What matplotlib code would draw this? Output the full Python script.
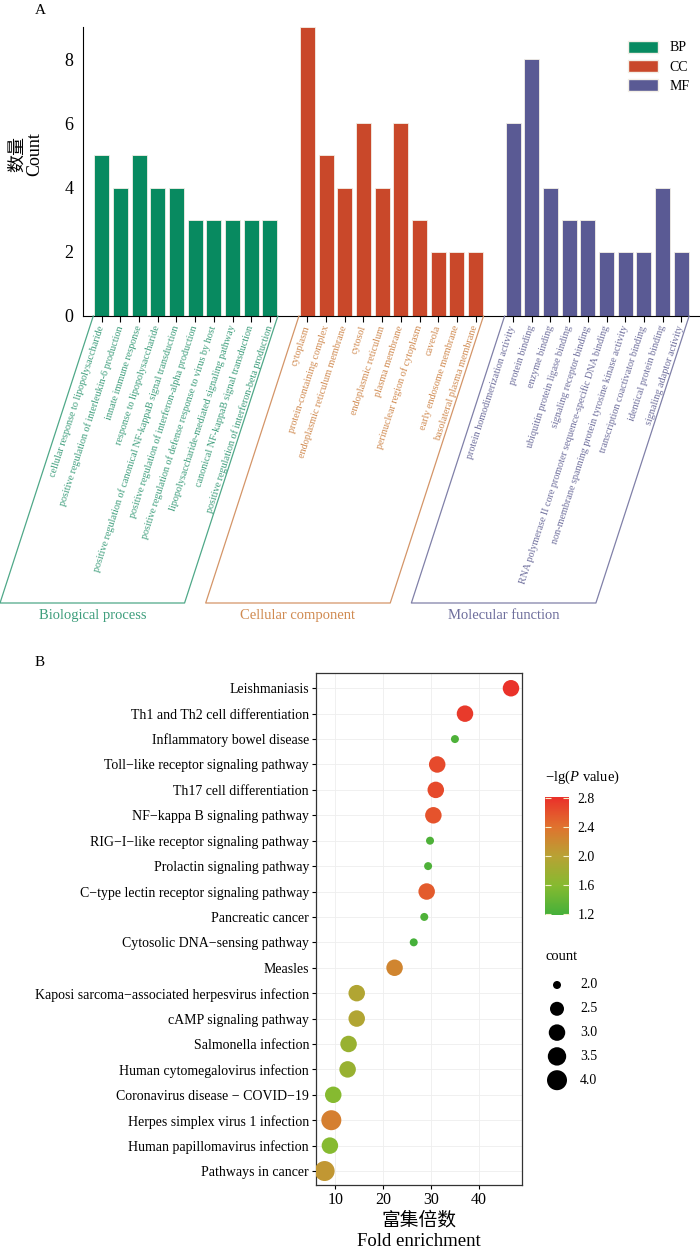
import numpy as np
import matplotlib
matplotlib.use('Agg')
import matplotlib.pyplot as plt
from matplotlib.colors import LinearSegmentedColormap, Normalize
from matplotlib.lines import Line2D
from matplotlib.patches import Patch
import matplotlib.cm as cm

plt.rcParams['font.family'] = ['Liberation Serif', 'Noto Sans CJK SC']
plt.rcParams['mathtext.fontset'] = 'custom'
plt.rcParams['mathtext.rm'] = 'Liberation Serif'
plt.rcParams['mathtext.it'] = 'Liberation Serif:italic'

# ---- panel A data (GO terms) ----
bp_terms = ['cellular response to lipopolysaccharide',
            'positive regulation of interleukin-6 production',
            'innate immune response',
            'response to lipopolysaccharide',
            'positive regulation of canonical NF-kappaB signal transduction',
            'positive regulation of interferon-alpha production',
            'positive regulation of defense response to virus by host',
            'lipopolysaccharide-mediated signaling pathway',
            'canonical NF-kappaB signal transduction',
            'positive regulation of interferon-beta production']
bp_counts = [5, 4, 5, 4, 4, 3, 3, 3, 3, 3]

cc_terms = ['cytoplasm',
            'protein-containing complex',
            'endoplasmic reticulum membrane',
            'cytosol',
            'endoplasmic reticulum',
            'plasma membrane',
            'perinuclear region of cytoplasm',
            'caveola',
            'early endosome membrane',
            'basolateral plasma membrane']
cc_counts = [9, 5, 4, 6, 4, 6, 3, 2, 2, 2]

mf_terms = ['protein homodimerization activity',
            'protein binding',
            'enzyme binding',
            'ubiquitin protein ligase binding',
            'signaling receptor binding',
            'RNA polymerase II core promoter sequence-specific DNA binding',
            'non-membrane spanning protein tyrosine kinase activity',
            'transcription coactivator binding',
            'identical protein binding',
            'signaling adaptor activity']
mf_counts = [6, 8, 4, 3, 3, 2, 2, 2, 4, 2]

groups = ['BP', 'CC', 'MF']
group_names = ['Biological process', 'Cellular component', 'Molecular function']

# ---- panel B data (KEGG) ----
kegg_terms = ['Leishmaniasis',
              'Th1 and Th2 cell differentiation',
              'Inflammatory bowel disease',
              'Toll\u2212like receptor signaling pathway',
              'Th17 cell differentiation',
              'NF\u2212kappa B signaling pathway',
              'RIG\u2212I\u2212like receptor signaling pathway',
              'Prolactin signaling pathway',
              'C\u2212type lectin receptor signaling pathway',
              'Pancreatic cancer',
              'Cytosolic DNA\u2212sensing pathway',
              'Measles',
              'Kaposi sarcoma\u2212associated herpesvirus infection',
              'cAMP signaling pathway',
              'Salmonella infection',
              'Human cytomegalovirus infection',
              'Coronavirus disease \u2212 COVID\u221219',
              'Herpes simplex virus 1 infection',
              'Human papillomavirus infection',
              'Pathways in cancer']
kegg_fold = [46.7, 37.1, 35.0, 31.3, 31.0, 30.5, 29.8, 29.4, 29.1, 28.6,
             26.4, 22.4, 14.5, 14.5, 12.8, 12.6, 9.6, 9.2, 8.9, 7.8]
kegg_count = [3, 3, 2, 3, 3, 3, 2, 2, 3, 2, 2, 3, 3, 3, 3, 3, 3, 4, 3, 4]
kegg_lgp = [2.80, 2.75, 1.25, 2.65, 2.65, 2.60, 1.25, 1.25, 2.55, 1.25,
            1.20, 2.25, 1.95, 1.95, 1.75, 1.75, 1.60, 2.30, 1.60, 2.10]

count_breaks = [2.0, 2.5, 3.0, 3.5, 4.0]
lgp_ticks = [1.2, 1.6, 2.0, 2.4, 2.8]

bar_colors = ['#088A60', '#C9482A', '#5A5A94']
label_colors = ['#3E9E7C', '#D08A50', '#6E6E9C']
box_colors = ['#4FA888', '#D49568', '#8080A8']

W, H = 700, 1260
fig = plt.figure(figsize=(W / 100, H / 100), dpi=100)

# ================= Panel A =================
axA = fig.add_axes([83 / W, 1 - 316 / H, 617 / W, 289 / H])
all_counts = [bp_counts, cc_counts, mf_counts]
all_terms = [bp_terms, cc_terms, mf_terms]
xpos_all, labels_all, lcol_all = [], [], []
group_pos = []
for gi, (cnts, terms) in enumerate(zip(all_counts, all_terms)):
    pos = np.arange(len(cnts)) + gi * (len(cnts) + 1)
    group_pos.append(pos)
    axA.bar(pos, cnts, width=0.8, color=bar_colors[gi],
            edgecolor='#f3efe6', linewidth=0.6, label=groups[gi])
    xpos_all.extend(pos)
    labels_all.extend(terms)
    lcol_all.extend([label_colors[gi]] * len(terms))

axA.set_xlim(-1, 32)
axA.set_ylim(0, 9.0)
axA.set_yticks([0, 2, 4, 6, 8])
axA.spines['top'].set_visible(False)
axA.spines['right'].set_visible(False)
axA.tick_params(axis='y', labelsize=13, length=0, pad=7)
axA.set_xticks(xpos_all)
axA.set_xticklabels(labels_all, rotation=72, ha='right', va='center',
                    rotation_mode='anchor', fontsize=7.3)
for t, c in zip(axA.get_xticklabels(), lcol_all):
    t.set_color(c)
axA.tick_params(axis='x', length=4, pad=3)
axA.set_ylabel('数量\nCount', fontsize=13, linespacing=1.0)
axA.yaxis.set_label_coords(-0.065, 0.56)

handles = [Patch(facecolor=bar_colors[i], edgecolor='#f3efe6') for i in range(3)]
axA.legend(handles, groups, loc='upper left', frameon=False, fontsize=10,
           bbox_to_anchor=(618 / W, 1 - 31 / H), bbox_transform=fig.transFigure,
           handlelength=2.2, handleheight=0.95, labelspacing=0.4,
           handletextpad=0.8, borderpad=0.2)

# slanted group boxes below the labels
depth = 287.0
shift = depth / np.tan(np.deg2rad(72))
inv = fig.transFigure.inverted()
for gi, pos in enumerate(group_pos):
    xl, y0 = axA.transData.transform((pos[0] - 0.45, 0))
    xr, _ = axA.transData.transform((pos[-1] + 0.42, 0))
    pts = np.array([[xl, y0], [xl - shift, y0 - depth],
                    [xr - shift, y0 - depth], [xr, y0]])
    pts_f = inv.transform(pts)
    fig.add_artist(Line2D(pts_f[:, 0], pts_f[:, 1], color=box_colors[gi],
                          linewidth=0.9, transform=fig.transFigure))
    cx = (pts[1, 0] + pts[2, 0]) / 2
    cf = inv.transform((cx, y0 - depth - 6))
    fig.text(cf[0], cf[1], group_names[gi], ha='center', va='top',
             fontsize=10.5, color=label_colors[gi])

fig.text(40 / W, 1 - 10 / H, 'A', fontsize=11, ha='center', va='center')
fig.text(40 / W, 1 - 662 / H, 'B', fontsize=11, ha='center', va='center')

# ================= Panel B =================
cmap = LinearSegmentedColormap.from_list(
    'gr', ['#45B03A', '#86BA30', '#B8A234', '#E0722E', '#EA2F2A'])
norm = Normalize(vmin=1.19, vmax=2.82)


def diam_px(c):
    return 8 + 12 * np.sqrt((np.asarray(c, float) - 2.0) / 2.0)


axB = fig.add_axes([316 / W, 1 - 1185 / H, 206 / W, 512 / H])
n = len(kegg_terms)
ypos = np.arange(n)[::-1] + 1
sizes = (diam_px(kegg_count) * 0.72) ** 2
axB.scatter(kegg_fold, ypos, s=sizes, c=kegg_lgp, cmap=cmap, norm=norm,
            edgecolors='none', zorder=3)
axB.set_xlim(6, 49)
axB.set_ylim(0.45, n + 0.6)
axB.set_xticks([10, 20, 30, 40])
axB.set_yticks(ypos)
axB.set_yticklabels(kegg_terms, fontsize=10)
axB.tick_params(axis='x', labelsize=11.5, length=3, pad=2)
axB.tick_params(axis='y', length=3, pad=2)
axB.grid(True, color='#eeeeee', linewidth=0.6, zorder=0)
axB.set_axisbelow(True)
for sp in axB.spines.values():
    sp.set_color('#333333')
    sp.set_linewidth(0.9)
axB.set_xlabel('富集倍数\nFold enrichment', fontsize=13.5, linespacing=1.25,
               labelpad=3)

# colorbar
cax = fig.add_axes([545 / W, 1 - 915 / H, 24 / W, 118 / H])
sm = cm.ScalarMappable(norm=norm, cmap=cmap)
cb = fig.colorbar(sm, cax=cax, ticks=lgp_ticks)
cb.outline.set_visible(False)
cb.ax.set_yticklabels(['%.1f' % v for v in lgp_ticks])
cb.ax.tick_params(labelsize=10, length=4, direction='in', color='#f5f0c8',
                  left=True, right=True, pad=6)
fig.text(545 / W, 1 - 777 / H, '\u2212lg($\\mathit{P}$ value)', fontsize=10.5,
         ha='left', va='center')

# size legend
lax = fig.add_axes([540 / W, 1 - 1095 / H, 80 / W, 150 / H])
lax.set_xlim(0, 80)
lax.set_ylim(150, 0)
lax.axis('off')
lax.text(5, 11, 'count', fontsize=10.5, ha='left', va='center')
for i, b in enumerate(count_breaks):
    yy = 40 + 23.8 * i
    lax.scatter([17], [yy], s=(diam_px(b) * 0.72) ** 2, color='black',
                edgecolors='none', clip_on=False)
    lax.text(40, yy, '%.1f' % b, fontsize=10, ha='left', va='center')

fig.savefig('out.png', dpi=100)
